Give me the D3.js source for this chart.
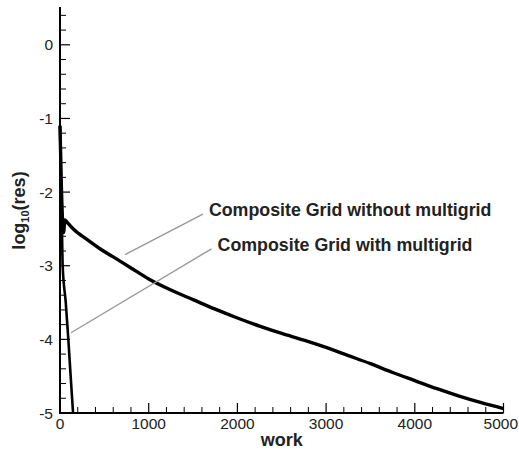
<!DOCTYPE html>
<html>
<head>
<meta charset="utf-8">
<script src="https://cdn.jsdelivr.net/npm/d3@7/dist/d3.min.js"></script>
<style>
  body { margin: 0; background: #fff; }
  svg { font-family: "Liberation Sans", Arial, Helvetica, sans-serif; }
  .tick-label { font-size: 15.5px; fill: #222; }
  .axis-title { font-size: 18px; font-weight: bold; fill: #222; }
  .note { font-size: 17.8px; font-weight: bold; fill: #222; }
</style>
</head>
<body>
<div id="chart"></div>
<script>
// residual history: work vs log10(res)
const withoutWork = [0, 15, 40, 55, 80, 150, 300, 450, 600, 800, 1000, 1250, 1500, 1750, 2000, 2250, 2500, 2750, 3000, 3250, 3500, 3750, 4000, 4250, 4500, 4750, 5000];
const withoutRes  = [-1.1, -1.9, -2.55, -2.38, -2.41, -2.5, -2.64, -2.77, -2.88, -3.03, -3.18, -3.33, -3.46, -3.59, -3.71, -3.82, -3.92, -4.01, -4.11, -4.22, -4.33, -4.45, -4.56, -4.67, -4.77, -4.86, -4.94];

const withWork = [0, 10, 22, 30, 65, 94, 120, 150];
const withRes  = [-1.1, -1.8, -2.5, -3.0, -3.5, -4.0, -4.5, -5.05];

const xMajor = [0, 1000, 2000, 3000, 4000, 5000];
const yMajor = [0, -1, -2, -3, -4, -5];

// annotation labels and leader lines (data coords)
const notes = [
    { text: "Composite Grid without multigrid", from: [733, -2.85], to: [1611, -2.30] },
    { text: "Composite Grid with multigrid",    from: [124, -3.91], to: [1709, -2.77] }
];

const W = 519, H = 450;
const x = d3.scaleLinear().domain([0, 5000]).range([60, 503.5]);
const y = d3.scaleLinear().domain([0.5, -5]).range([8, 413]);

const svg = d3.select("#chart").append("svg")
    .attr("width", W).attr("height", H);

svg.append("clipPath").attr("id", "plot")
    .append("rect").attr("x", 58).attr("y", 0).attr("width", 450).attr("height", 413);

// curves
const line = d3.line().x(d => x(d[0])).y(d => y(d[1])).curve(d3.curveMonotoneX);

svg.append("path")
    .datum(withoutWork.map((w, i) => [w, withoutRes[i]]))
    .attr("d", line)
    .attr("fill", "none").attr("stroke", "#000").attr("stroke-width", 3.4)
    .attr("stroke-linejoin", "round")
    .attr("clip-path", "url(#plot)");

svg.append("path")
    .datum(withWork.map((w, i) => [w, withRes[i]]))
    .attr("d", line)
    .attr("fill", "none").attr("stroke", "#000").attr("stroke-width", 2.6)
    .attr("clip-path", "url(#plot)");

// axes (ticks inward)
const xMinor = d3.range(0, 5001, 200).filter(v => v % 1000 !== 0);
const yMinor = d3.range(-50, 6, 2).map(v => v / 10).filter(v => !Number.isInteger(v));

const gx = svg.append("g");
gx.selectAll(".xminor").data(xMinor).enter().append("line")
    .attr("x1", d => x(d)).attr("x2", d => x(d))
    .attr("y1", y(-5)).attr("y2", y(-5) - 6)
    .attr("stroke", "#000").attr("stroke-width", 1);
gx.selectAll(".xmajor").data(xMajor).enter().append("line")
    .attr("x1", d => x(d)).attr("x2", d => x(d))
    .attr("y1", y(-5)).attr("y2", y(-5) - 10)
    .attr("stroke", "#000").attr("stroke-width", 1.2);
gx.selectAll(".xlab").data(xMajor).enter().append("text")
    .attr("class", "tick-label")
    .attr("x", d => d === 5000 ? W - 1 : x(d)).attr("y", 429)
    .attr("text-anchor", d => d === 5000 ? "end" : "middle")
    .text(d => d);

const gy = svg.append("g");
gy.selectAll(".yminor").data(yMinor).enter().append("line")
    .attr("x1", x(0)).attr("x2", x(0) + 6)
    .attr("y1", d => y(d)).attr("y2", d => y(d))
    .attr("stroke", "#000").attr("stroke-width", 1);
gy.selectAll(".ymajor").data(yMajor).enter().append("line")
    .attr("x1", x(0)).attr("x2", x(0) + 10)
    .attr("y1", d => y(d)).attr("y2", d => y(d))
    .attr("stroke", "#000").attr("stroke-width", 1.2);
gy.selectAll(".ylab").data(yMajor).enter().append("text")
    .attr("class", "tick-label")
    .attr("x", 53).attr("y", d => y(d) + 5.5)
    .attr("text-anchor", "end")
    .text(d => d === 0 ? "0" : "-" + Math.abs(d));

// axis lines
svg.append("line")
    .attr("x1", x(0)).attr("x2", x(0)).attr("y1", y(0.5) - 1).attr("y2", y(-5) + 1)
    .attr("stroke", "#000").attr("stroke-width", 2);
svg.append("line")
    .attr("x1", x(0) - 1).attr("x2", x(5000)).attr("y1", y(-5)).attr("y2", y(-5))
    .attr("stroke", "#000").attr("stroke-width", 2);

// axis titles
svg.append("text").attr("class", "axis-title")
    .attr("x", (x(0) + x(5000)) / 2).attr("y", 446)
    .attr("text-anchor", "middle").text("work");

const yt = svg.append("text").attr("class", "axis-title")
    .attr("transform", `translate(25,${(y(0.5) + y(-5)) / 2}) rotate(-90)`)
    .attr("text-anchor", "middle");
yt.append("tspan").text("log");
yt.append("tspan").attr("font-size", "11px").attr("dy", 4).text("10");
yt.append("tspan").attr("dy", -4).text("(res)");

// annotations
notes.forEach(n => {
    svg.append("line")
        .attr("x1", x(n.from[0])).attr("y1", y(n.from[1]))
        .attr("x2", x(n.to[0])).attr("y2", y(n.to[1]))
        .attr("stroke", "#999").attr("stroke-width", 1.4);
    svg.append("text").attr("class", "note")
        .attr("x", x(n.to[0]) + 6).attr("y", y(n.to[1]) + 2)
        .text(n.text);
});
</script>
</body>
</html>
